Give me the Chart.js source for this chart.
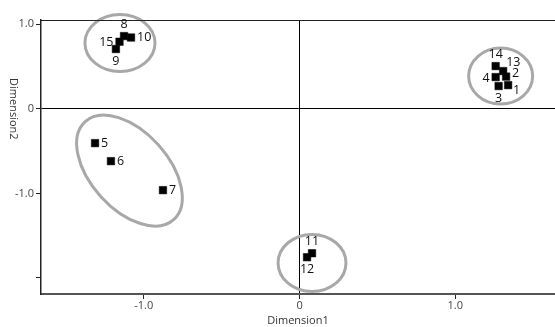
<!DOCTYPE html>
<html>
<head>
<meta charset="utf-8">
<script src="https://cdn.jsdelivr.net/npm/chart.js@4/dist/chart.umd.min.js"></script>
<style>
  html, body { margin: 0; padding: 0; background: #fff; }
  #wrap { width: 555px; height: 327px; }
</style>
</head>
<body>
<div id="wrap"><canvas id="mds-chart" width="555" height="327"></canvas></div>
<script>
const mdsChart = document.querySelector("#mds-chart");

// point ids and their coordinates
const pointIds = [1, 2, 3, 4, 5, 6, 7, 8, 9, 10, 11, 12, 13, 14, 15];
const dim1 = [1.339, 1.326, 1.278, 1.259, -1.313, -1.211, -0.877, -1.127, -1.179, -1.082, 0.080, 0.048, 1.307, 1.259, -1.156];
const dim2 = [0.280, 0.381, 0.269, 0.375, -0.406, -0.619, -0.962, 0.860, 0.707, 0.843, -1.708, -1.755, 0.446, 0.505, 0.793];

// where each number sits next to its square
const labelPlace = ["br", "rt", "b", "l", "r", "r", "r", "t", "b", "r", "t", "b", "tr", "t", "l"];

// tick values
const xTicks = [-1, 0, 1];
const yTicks = [-2, -1, 0, 1];

// cluster rings: centre + two half-axis vectors, all in data units
const ringCenterX = [-1.153, 1.291, 0.080, -1.092];
const ringCenterY = [0.778, 0.387, -1.822, -0.731];
const ringUx = [0.225, 0.2055, 0.218, 0.284];
const ringUy = [0, 0, 0, -0.580];
const ringVx = [0, 0, 0, -0.185];
const ringVy = [0.337, 0.331, 0.337, -0.305];

const fontFamily = "'Open Sans', 'DejaVu Sans', sans-serif";

const placeOffsets = {
  r:  { dx: 6,  dy: 0,   align: "left" },
  rt: { dx: 6,  dy: -3,  align: "left" },
  br: { dx: 5,  dy: 5,   align: "left" },
  tr: { dx: 3,  dy: -9,  align: "left" },
  l:  { dx: -6, dy: 1,   align: "right" },
  t:  { dx: 0,  dy: -12, align: "center" },
  b:  { dx: 0,  dy: 12,  align: "center" },
};

const ringsPlugin = {
  id: "rings",
  beforeDatasetsDraw(chart) {
    const { ctx, scales } = chart;
    const xs = scales.x, ys = scales.y;
    ctx.save();
    ctx.strokeStyle = "#a8a8a8";
    ctx.lineWidth = 3;
    for (let i = 0; i < ringCenterX.length; i++) {
      const cx = xs.getPixelForValue(ringCenterX[i]);
      const cy = ys.getPixelForValue(ringCenterY[i]);
      const ux = xs.getPixelForValue(ringCenterX[i] + ringUx[i]) - cx;
      const uy = ys.getPixelForValue(ringCenterY[i] + ringUy[i]) - cy;
      const vx = xs.getPixelForValue(ringCenterX[i] + ringVx[i]) - cx;
      const vy = ys.getPixelForValue(ringCenterY[i] + ringVy[i]) - cy;
      ctx.save();
      ctx.transform(ux, uy, vx, vy, cx, cy);
      ctx.beginPath();
      ctx.arc(0, 0, 1, 0, Math.PI * 2);
      ctx.restore();
      ctx.stroke();
    }
    ctx.restore();
  },
  afterDatasetsDraw(chart) {
    const { ctx, chartArea, scales } = chart;
    // top frame line
    ctx.save();
    ctx.strokeStyle = "#222";
    ctx.lineWidth = 1;
    ctx.beginPath();
    ctx.moveTo(chartArea.left, chartArea.top + 0.5);
    ctx.lineTo(chartArea.right, chartArea.top + 0.5);
    ctx.stroke();

    // point numbers
    const meta = chart.getDatasetMeta(0);
    ctx.fillStyle = "#111";
    ctx.font = "12.5px " + fontFamily;
    ctx.textBaseline = "middle";
    meta.data.forEach((pt, i) => {
      const p = placeOffsets[labelPlace[i]];
      ctx.textAlign = p.align;
      ctx.fillText(String(pointIds[i]), pt.x + p.dx, pt.y + p.dy);
    });

    // y title, reads top to bottom
    ctx.fillStyle = "#333";
    ctx.font = "11px " + fontFamily;
    ctx.textAlign = "center";
    ctx.translate(13, scales.y.getPixelForValue(0));
    ctx.rotate(Math.PI / 2);
    ctx.fillText("Dimension2", 0, 0);
    ctx.restore();
  },
};

const tickFmt = (v) => (v === 0 ? "0" : v === -2 ? "" : v.toFixed(1));

const chart = new Chart(mdsChart, {
  type: "scatter",
  data: {
    datasets: [{
      data: dim1.map((x, i) => ({ x: x, y: dim2[i] })),
      pointStyle: "rect",
      pointRadius: 5.3,
      pointHoverRadius: 5.3,
      backgroundColor: "#000",
      borderColor: "#000",
      borderWidth: 0.5,
    }],
  },
  options: {
    responsive: false,
    animation: false,
    layout: { autoPadding: false, padding: { top: 20, right: 0, left: 0, bottom: 0 } },
    plugins: { legend: { display: false }, tooltip: { enabled: false } },
    scales: {
      x: {
        min: -1.66,
        max: 1.64,
        afterBuildTicks: (s) => { s.ticks = xTicks.map((v) => ({ value: v })); },
        afterFit: (s) => { s.height = 33; s.paddingRight = 0; s.paddingLeft = 0; },
        ticks: {
          callback: tickFmt,
          color: "#444",
          font: { size: 11, family: fontFamily },
          padding: 0,
          maxRotation: 0,
        },
        grid: {
          color: (c) => (c.tick && c.tick.value === 0 ? "#000" : "rgba(0,0,0,0)"),
          tickColor: "#222",
          tickLength: 5,
          lineWidth: 1,
        },
        border: { display: true, color: "#555", width: 2 },
        title: {
          display: true,
          text: "Dimension1",
          color: "#333",
          font: { size: 11, family: fontFamily },
          padding: { top: 0, bottom: 0 },
        },
      },
      y: {
        min: -2.19,
        max: 1.05,
        afterBuildTicks: (s) => { s.ticks = yTicks.map((v) => ({ value: v })); },
        afterFit: (s) => { s.width = 41; s.paddingTop = 0; s.paddingBottom = 0; },
        ticks: {
          callback: tickFmt,
          color: "#444",
          font: { size: 11, family: fontFamily },
          padding: 2,
        },
        grid: {
          color: (c) => (c.tick && c.tick.value === 0 ? "#000" : "rgba(0,0,0,0)"),
          tickColor: "#222",
          tickLength: 5,
          lineWidth: 1,
        },
        border: { display: true, color: "#222", width: 1.5 },
      },
    },
  },
  plugins: [ringsPlugin],
});
</script>
</body>
</html>
